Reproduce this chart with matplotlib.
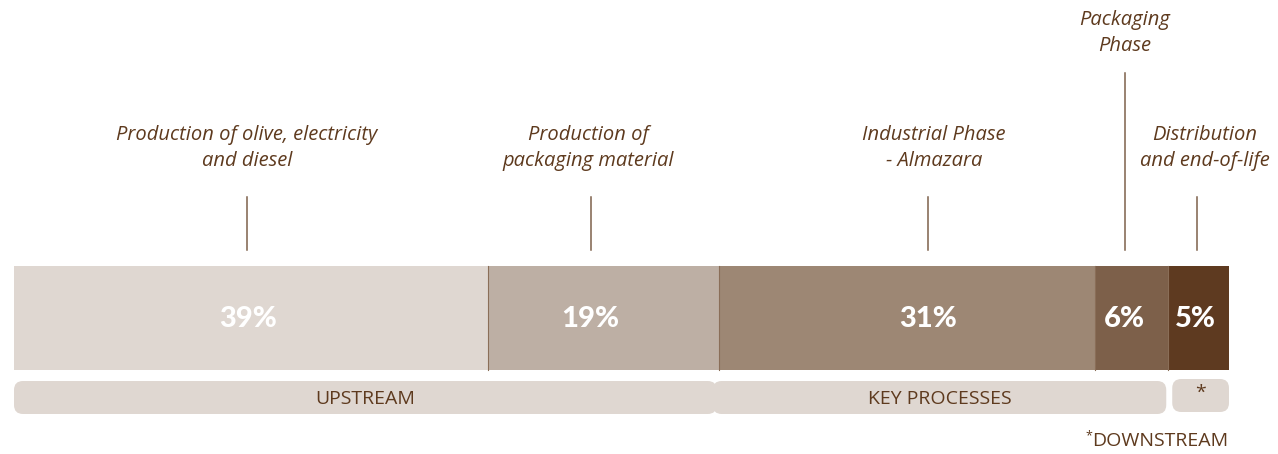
import matplotlib
matplotlib.use("Agg")
import matplotlib.pyplot as plt
from matplotlib.patches import FancyBboxPatch
from matplotlib.transforms import IdentityTransform
import numpy as np

# ---- data ----
stages = ["Production of olive, electricity\nand diesel",
          "Production of\npackaging material",
          "Industrial Phase\n- Almazara",
          "Packaging\nPhase",
          "Distribution\nand end-of-life"]
shares = [39, 19, 31, 6, 5]
share_labels = ["39%", "19%", "31%", "6%", "5%"]
groups = ["UPSTREAM", "KEY PROCESSES", "*"]
group_members = [[0, 1], [2, 3], [4]]
footnote = "DOWNSTREAM"

# ---- style ----
bar_colors = ["#dfd7d1", "#bdafa4", "#9d8774", "#7d604a", "#5e3a20"]
text_color = "#5e3a1e"
line_color = "#7d604a"
pill_color = "#dfd7d1"
label_font = "Open Sans"
pct_font = "Lato"

W, H = 1278, 454
fig = plt.figure(figsize=(W / 100, H / 100), dpi=100)
x0, x1 = 14, 1229
ax = fig.add_axes([x0 / W, 0, (x1 - x0) / W, 1])
ax.set_xlim(0, sum(shares))
ax.set_ylim(H, 0)
ax.axis("off")

px = sum(shares) / (x1 - x0)  # data units per pixel

lefts = np.concatenate([[0], np.cumsum(shares)[:-1]])
bar_top, bar_bot = 266, 370
ax.barh((bar_top + bar_bot) / 2, shares, left=lefts, height=bar_bot - bar_top,
        color=bar_colors, edgecolor="none")
for l in lefts[1:]:
    ax.plot([l, l], [bar_top, bar_bot], color="#8a6e58", lw=0.8)

centers = lefts + np.array(shares) / 2
pct_off_px = [-3, -13, 21, -7, -3]
for i, (c, lab) in enumerate(zip(centers, share_labels)):
    ax.text(c + pct_off_px[i] * px, 319, lab, ha="center", va="center", color="white",
            fontsize=21, fontweight="black", family=pct_font)

line_off_px = [-4, -12, 21, -7, -2]
text_off_px = [-4, -15, 27, -7, 6]
line_top = [197, 197, 197, 73, 197]
text_y = [148, 148, 148, 33, 148]
for i, name in enumerate(stages):
    lx = centers[i] + line_off_px[i] * px
    ax.plot([lx, lx], [line_top[i], 250], color=line_color, lw=1.1)
    ax.text(centers[i] + text_off_px[i] * px, text_y[i], name, ha="center", va="center",
            color=text_color, fontsize=14.5, style="italic", family=label_font,
            linespacing=1.45)

# group pills
pill_bounds_px = [(0, -2, 381, 414), (-6, -2, 381, 414), (4, 0, 379, 412)]
for gi, (g, mem) in enumerate(zip(groups, group_members)):
    dl, dr, y0, y1 = pill_bounds_px[gi]
    gl = lefts[mem[0]] + dl * px
    gr = lefts[mem[-1]] + shares[mem[-1]] + dr * px
    p = FancyBboxPatch((gl, y0), gr - gl, y1 - y0,
                       boxstyle=f"round,pad=0,rounding_size={9 * px}",
                       mutation_aspect=1 / px,
                       facecolor=pill_color, edgecolor="none")
    ax.add_patch(p)
    ax.text((gl + gr) / 2, (y0 + y1) / 2 + (-3 if gi == 2 else 1), g,
            ha="center", va="center", color=text_color, fontsize=14, family=label_font)

t = ax.text(sum(shares) - 1 * px, 441, footnote, ha="right", va="center",
            color=text_color, fontsize=14, family=label_font)
fig.canvas.draw()
bb = t.get_window_extent()
fig.text(bb.x0, bb.y1 + 3, "*", ha="right", va="top", transform=IdentityTransform(),
         color=text_color, fontsize=9, family=label_font)

fig.savefig("out.png", dpi=100, facecolor="white")
